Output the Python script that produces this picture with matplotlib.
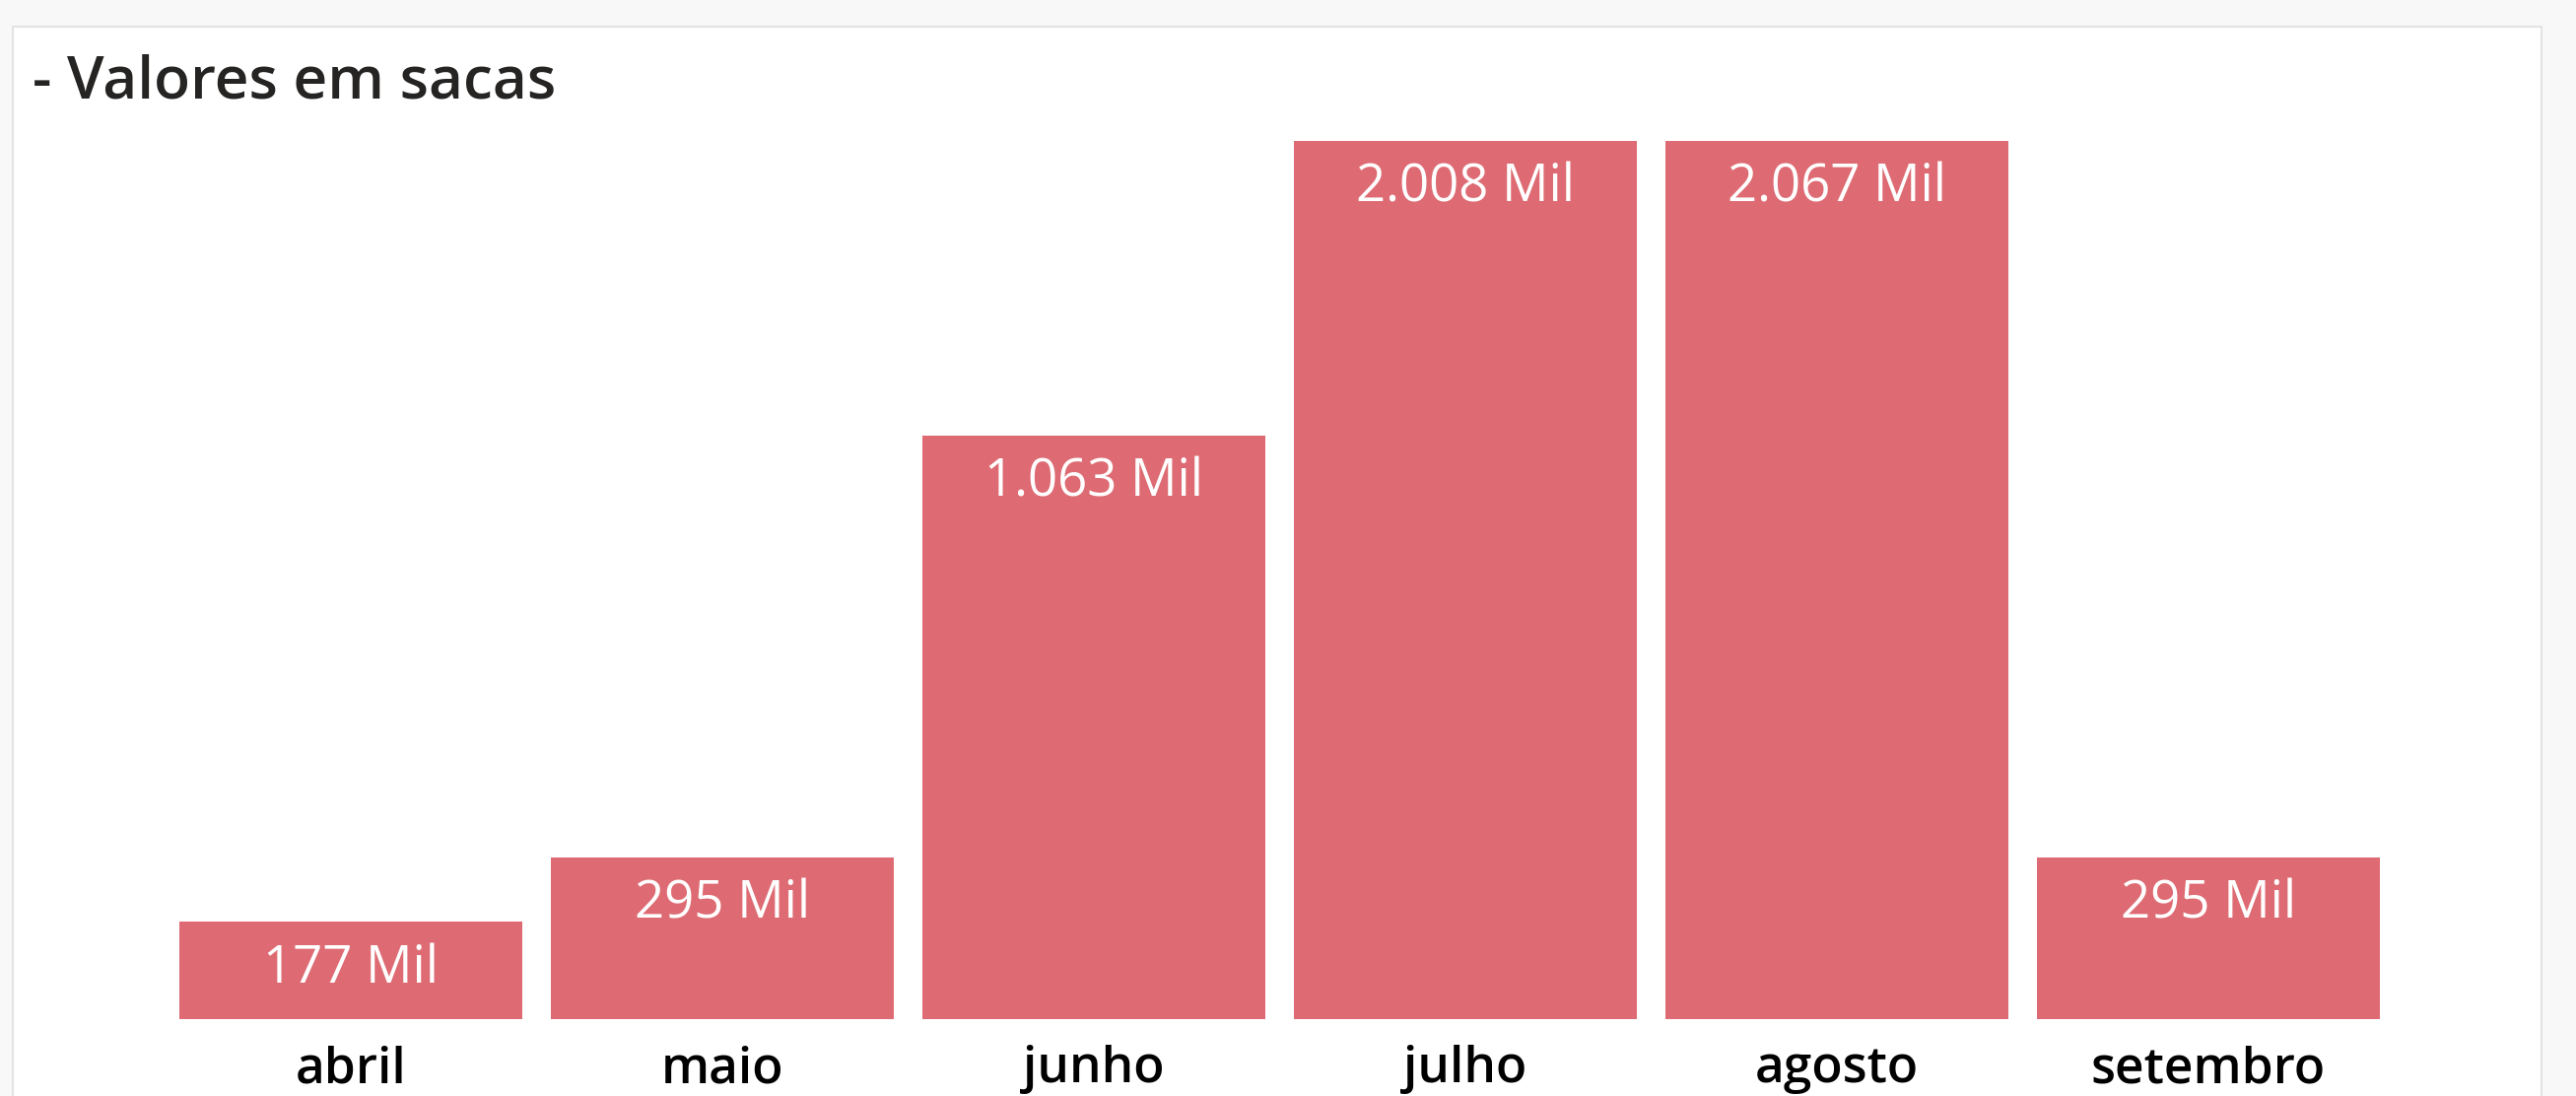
import matplotlib
matplotlib.use("Agg")
import matplotlib.pyplot as plt
from matplotlib.patches import Rectangle

meses = ["abril", "maio", "junho", "julho", "agosto", "setembro"]
valores = [177, 295, 1063, 2008, 2067, 295]  # em mil sacas
rotulos = ["177 Mil", "295 Mil", "1.063 Mil", "2.008 Mil", "2.067 Mil", "295 Mil"]
y_max = 1600  # o eixo corta julho e agosto

cor_barra = "#DE6B73"
plt.rcParams["font.family"] = ["Open Sans", "DejaVu Sans"]

W, H = 2614, 1112
fig = plt.figure(figsize=(W / 100, H / 100), dpi=100, facecolor="#f8f8f8")

# cartao branco ao fundo
card = Rectangle((13 / W, -0.05), (2579 - 13) / W, 1.05 - 27 / H,
                 transform=fig.transFigure, facecolor="white",
                 edgecolor="#e3e3e3", linewidth=1.5, zorder=-1)
fig.patches.append(card)

ax = fig.add_axes([167.5 / W, (H - 1034) / H, (6 * 377) / W, (1034 - 143) / H])
ax.set_facecolor("none")

x = range(len(meses))
bars = ax.bar(x, valores, width=0.924, color=cor_barra, clip_on=True)
ax.set_xlim(-0.5, len(meses) - 0.5)
ax.set_ylim(0, y_max)

for i, (v, txt) in enumerate(zip(valores, rotulos)):
    ax.annotate(txt, (i, min(v, y_max)), xytext=(0, -15), textcoords="offset points",
                ha="center", va="top", color="white", fontsize=38)

ax.set_xticks(list(x))
ax.set_xticklabels(meses, fontsize=37, fontweight="semibold", color="black")
ax.tick_params(axis="x", length=0, pad=19)
ax.set_yticks([])
for s in ax.spines.values():
    s.set_visible(False)

fig.text(33 / W, 1 - 100 / H, "- Valores em sacas", fontsize=43.5,
         fontweight="semibold", color="#252423", va="baseline", ha="left")

fig.savefig("out.png", dpi=100, facecolor=fig.get_facecolor())
